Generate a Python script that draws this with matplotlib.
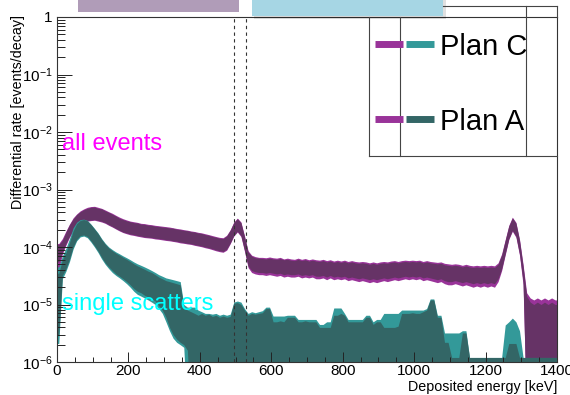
import numpy as np

import matplotlib
matplotlib.use("Agg")
import matplotlib.pyplot as plt
from matplotlib.lines import Line2D
from matplotlib.patches import Rectangle
from matplotlib.ticker import (MultipleLocator, FixedLocator, FixedFormatter,
                               LogLocator, NullFormatter)

plt.rcParams["font.family"] = ["Liberation Sans", "DejaVu Sans"]
plt.rcParams["mathtext.fontset"] = "custom"
plt.rcParams["mathtext.rm"] = "Liberation Sans"
plt.rcParams["mathtext.it"] = "Liberation Sans:italic"
plt.rcParams["mathtext.bf"] = "Liberation Sans:bold"

# 10 keV bins from 0 to 1400 keV; rates in units of 1e-6 events/decay.
# each series: upper (hi) and lower (lo) edge of the drawn error band
BIN_KEV = 10
E_MAX = 1400
UNIT = 1e-6

all_c_hi = [115, 140, 190, 250, 320, 375, 425, 460, 490, 505,
            510, 490, 470, 440, 410, 385, 355, 330, 310, 295,
            282, 275, 268, 258, 255, 248, 244, 238, 234, 230,
            226, 222, 216, 210, 206, 200, 196, 190, 186, 180,
            176, 170, 164, 158, 152, 147, 145, 160, 200, 272,
            318, 272, 156, 86, 72, 68, 66, 66, 65, 67,
            65, 64, 66, 62, 64, 62, 61, 64, 61, 63,
            60, 62, 60, 59, 61, 58, 60, 57, 59, 57,
            59, 56, 58, 56, 55, 56, 55, 53, 55, 53,
            55, 56, 55, 57, 58, 56, 58, 59, 58, 59,
            58, 59, 56, 58, 56, 55, 54, 55, 52, 51,
            50, 51, 50, 48, 50, 48, 47, 48, 47, 48,
            47, 48, 47, 53, 76, 135, 238, 330, 268, 136,
            50, 16, 13, 12, 13, 12, 13, 12, 13, 12]
all_c_lo = [40, 75, 108, 148, 188, 222, 248, 268, 282, 288,
            292, 282, 272, 258, 238, 222, 205, 190, 178, 170,
            163, 159, 154, 150, 146, 144, 142, 138, 136, 133,
            130, 128, 125, 122, 118, 116, 113, 111, 107, 104,
            101, 97, 94, 90, 86, 83, 81, 88, 114, 155,
            182, 152, 84, 44, 36, 34, 33, 33, 32, 33,
            32, 31, 32, 30, 31, 30, 30, 31, 29, 30,
            29, 30, 28, 28, 29, 27, 29, 27, 28, 27,
            28, 26, 27, 26, 25, 26, 25, 24, 25, 24,
            25, 26, 25, 26, 27, 26, 27, 28, 27, 28,
            27, 28, 26, 27, 26, 25, 24, 25, 23, 22,
            22, 23, 22, 21, 22, 21, 20, 21, 20, 21,
            20, 21, 20, 25, 39, 73, 135, 188, 148, 72,
            22, 0, 0, 0, 0, 0, 0, 0, 0, 0]

all_a_hi = [110, 130, 180, 245, 305, 365, 410, 445, 470, 490,
            495, 470, 460, 425, 400, 370, 345, 315, 300, 285,
            275, 265, 262, 250, 248, 240, 238, 230, 228, 222,
            220, 214, 212, 204, 200, 195, 192, 185, 182, 175,
            172, 164, 160, 152, 148, 142, 140, 155, 195, 265,
            310, 265, 150, 82, 69, 65, 64, 63, 62, 64,
            62, 61, 63, 60, 61, 59, 58, 61, 58, 60,
            57, 59, 57, 56, 58, 55, 57, 54, 56, 54,
            56, 53, 55, 53, 52, 53, 52, 50, 52, 50,
            52, 53, 52, 54, 55, 53, 55, 56, 55, 56,
            55, 56, 53, 55, 53, 52, 51, 52, 49, 48,
            47, 48, 47, 45, 47, 45, 44, 45, 44, 45,
            44, 45, 44, 50, 72, 130, 230, 320, 260, 130,
            46, 14, 11, 10, 11, 10, 11, 10, 11, 10]
all_a_lo = [55, 82, 115, 155, 195, 230, 255, 275, 290, 295,
            300, 290, 280, 265, 245, 228, 210, 195, 182, 175,
            168, 164, 158, 155, 150, 148, 146, 142, 140, 137,
            134, 132, 128, 126, 122, 119, 116, 114, 110, 107,
            104, 100, 97, 93, 89, 86, 84, 92, 118, 160,
            188, 158, 88, 47, 39, 37, 36, 36, 35, 36,
            35, 34, 35, 33, 34, 33, 33, 34, 32, 33,
            32, 33, 31, 31, 32, 30, 32, 30, 31, 30,
            31, 29, 30, 29, 28, 29, 28, 27, 28, 27,
            28, 29, 28, 29, 30, 29, 30, 31, 30, 31,
            30, 31, 29, 30, 29, 28, 27, 28, 26, 25,
            25, 26, 25, 24, 25, 24, 23, 24, 23, 24,
            23, 24, 23, 28, 42, 77, 140, 195, 155, 76,
            25, 0, 0, 0, 0, 0, 0, 0, 0, 0]

ss_c_hi = [45, 70, 95, 140, 215, 270, 300, 305, 290, 250,
           210, 175, 140, 116, 100, 90, 82, 76, 70, 65,
           60, 55, 51, 48, 45, 42, 39, 36, 33, 31,
           29, 28, 27, 26, 25, 10, 9, 9, 9, 8,
           7.5, 7, 7, 6.8, 7, 6.5, 6.8, 6.5, 6.8, 11,
           11.5, 11, 8.5, 7, 7.5, 7.2, 7.5, 7.8, 9, 9,
           6.3, 6.3, 6.3, 6.3, 6.5, 6.5, 6.5, 5.5, 5.5, 5.5,
           5.5, 5.5, 5.5, 4.5, 4.5, 5, 5, 8.7, 8.7, 8.7,
           7, 5.5, 5.5, 5.5, 5.5, 5.5, 6.5, 6.5, 5, 5.5,
           5.5, 7, 7, 7, 7, 7, 8, 8, 8, 8,
           8, 8, 8, 8.5, 12.5, 12.5, 6.5, 6.5, 3.2, 3.2,
           3.2, 3.2, 3.2, 3.5, 3.5, 1.2, 1.2, 1.2, 1.2, 1.2,
           1.2, 1.2, 1.2, 1.2, 1.2, 4.4, 5, 5.8, 5, 3.5,
           1.2, 1.2, 1.2, 1.2, 1.2, 1.2, 1.2, 1.2, 1.2, 1.2]
ss_c_lo = [2.1, 28, 38, 56, 92, 128, 150, 155, 145, 122,
           100, 80, 62, 50, 42, 36, 32, 29, 26, 23,
           20, 17, 15, 14, 13, 12, 11, 10, 8.5, 7,
           5, 3.5, 2.6, 2.2, 2.0, 1.8, 0, 0, 0, 0] + [0] * 100

ss_a_hi = [35, 60, 80, 120, 190, 255, 290, 300, 285, 245,
           205, 170, 135, 112, 96, 86, 78, 72, 66, 61,
           56, 51, 47, 44, 41, 38, 36, 33, 30, 28,
           26, 25, 24, 23, 22, 9, 8, 7.5, 7, 6.5,
           7, 6.5, 6.8, 6.2, 6.5, 6, 6.3, 6, 6.2, 10.5,
           10.8, 10, 8, 6.5, 7, 6.8, 7, 7.2, 8.5, 8.5,
           5, 5, 5.2, 5, 6, 6, 6, 5, 5, 5.2,
           5, 5, 5, 4, 4, 4, 4, 6.5, 6.5, 7,
           6.5, 5, 5, 5, 5, 5, 6, 6, 4.5, 5,
           5, 4, 4, 4, 4, 4.2, 7, 7, 7, 7.2,
           7, 7, 7.5, 8, 12, 12, 6, 6, 2.2, 2.2,
           1.2, 1.2, 1.2, 3.2, 3.2, 1.2, 1.2, 1.2, 1.2, 1.2,
           1.2, 1.2, 1.2, 1.2, 1.2, 1.2, 2.1, 2.1, 2.1, 1.2,
           1.2, 1.2, 1.2, 1.2, 1.2, 1.2, 1.2, 1.2, 1.2, 1.2]
ss_a_lo = [3.0, 32, 42, 62, 100, 135, 158, 162, 152, 128,
           105, 85, 66, 53, 45, 39, 34, 31, 28, 25,
           22, 19, 17, 16, 14.5, 13.5, 12.5, 11.5, 9.5, 8,
           6, 4, 3, 2.5, 2.2, 2.0, 1.6, 0, 0, 0] + [0] * 100

# dashed markers around the 511 keV line
marker_kev = [495, 529]

ytick_vals = [1e-6, 1e-5, 1e-4, 1e-3, 1e-2, 1e-1, 1]
ytick_labels = ["$10^{-6}$", "$10^{-5}$", "$10^{-4}$", "$10^{-3}$",
                "$10^{-2}$", "$10^{-1}$", "1"]

C_ALL = "#993399"
A_ALL = "#663366"
C_SS = "#339999"
A_SS = "#336666"

W, H = 570, 395


def fx(px):
    return px / W


def fy(py):
    return 1 - py / H


centers = np.arange(BIN_KEV / 2, E_MAX, BIN_KEV)
xs = np.concatenate([[0], centers, [E_MAX]])


def band(ax, hi, lo, color):
    hi = np.asarray(hi, float) * UNIT
    lo = np.clip(np.asarray(lo, float) * UNIT, 1e-7, None)
    hi = np.concatenate([hi[:1], hi, hi[-1:]])
    lo = np.concatenate([lo[:1], lo, lo[-1:]])
    ax.fill_between(xs, lo, hi, color=color, lw=0)


fig = plt.figure(figsize=(W / 100, H / 100), dpi=100)
ax = fig.add_axes([fx(57), fy(362), fx(557) - fx(57), fy(17) - fy(362)])
ax.set_yscale("log")
ax.set_xlim(0, E_MAX)
ax.set_ylim(1e-6, 1)

band(ax, all_c_hi, all_c_lo, C_ALL)
band(ax, all_a_hi, all_a_lo, A_ALL)
band(ax, ss_c_hi, ss_c_lo, C_SS)
band(ax, ss_a_hi, ss_a_lo, A_SS)

for e in marker_kev:
    ax.axvline(e, color="#333333", lw=0.8, ls=(0, (3, 3)))

ax.xaxis.set_major_locator(MultipleLocator(200))
ax.xaxis.set_minor_locator(MultipleLocator(50))
ax.yaxis.set_major_locator(FixedLocator(ytick_vals))
ax.yaxis.set_major_formatter(FixedFormatter(ytick_labels))
ax.yaxis.set_minor_locator(LogLocator(base=10, subs=np.arange(2, 10)))
ax.yaxis.set_minor_formatter(NullFormatter())
ax.tick_params(which="both", direction="in", top=False, right=False,
               color="#222222", width=0.7, labelsize=11)
ax.tick_params(axis="y", which="major", length=10.5, pad=3)
ax.tick_params(axis="y", which="minor", length=5.4)
ax.tick_params(axis="x", which="major", length=7.2, pad=1.5)
ax.tick_params(axis="x", which="minor", length=3.6)
for sp in ax.spines.values():
    sp.set_color("#333333")
    sp.set_linewidth(0.8)

fig.text(fx(557), fy(391), "Deposited energy [keV]", ha="right",
         va="baseline", fontsize=10.3)
fig.text(fx(18), fy(15), "Differential rate [events/decay]", rotation=90,
         ha="center", va="top", fontsize=10.3)

fig.text(fx(62), fy(150), "all events", color="#ff00ff", fontsize=17,
         va="baseline")
fig.text(fx(62), fy(310), "single scatters", color="#00ffff", fontsize=17,
         va="baseline")

# legend panel
box = [((369, 156), (557, 156)), ((369, 17), (369, 156)),
       ((400, 17), (400, 156)), ((526, 6), (526, 156)),
       ((443, 6), (557, 6)), ((557, 6), (557, 17))]
for (x0, y0), (x1, y1) in box:
    fig.add_artist(Line2D([fx(x0), fx(x1)], [fy(y0), fy(y1)],
                          transform=fig.transFigure, color="#444444",
                          lw=0.8))
for y_px, ss_col, label in [(44, C_SS, "Plan C"), (119, A_SS, "Plan A")]:
    fig.add_artist(Line2D([fx(375), fx(403)], [fy(y_px)] * 2, lw=5,
                          color=C_ALL, solid_capstyle="butt",
                          transform=fig.transFigure))
    fig.add_artist(Line2D([fx(406), fx(434)], [fy(y_px)] * 2, lw=5,
                          color=ss_col, solid_capstyle="butt",
                          transform=fig.transFigure))
    fig.text(fx(440), fy(y_px + 11), label, fontsize=21, va="baseline")

# overlapping boxes cut off at the top edge
fig.add_artist(Rectangle((fx(78), fy(12)), fx(239) - fx(78), 12 / H,
                         transform=fig.transFigure, color="#b09cb8", lw=0))
fig.add_artist(Rectangle((fx(254), fy(19)), fx(446) - fx(254), 19 / H,
                         transform=fig.transFigure, color="#000000",
                         alpha=0.12, lw=0))
fig.add_artist(Rectangle((fx(252), fy(16)), fx(443) - fx(252), 16 / H,
                         transform=fig.transFigure, color="#a6d6e4", lw=0))

fig.savefig("out.png", dpi=100)
